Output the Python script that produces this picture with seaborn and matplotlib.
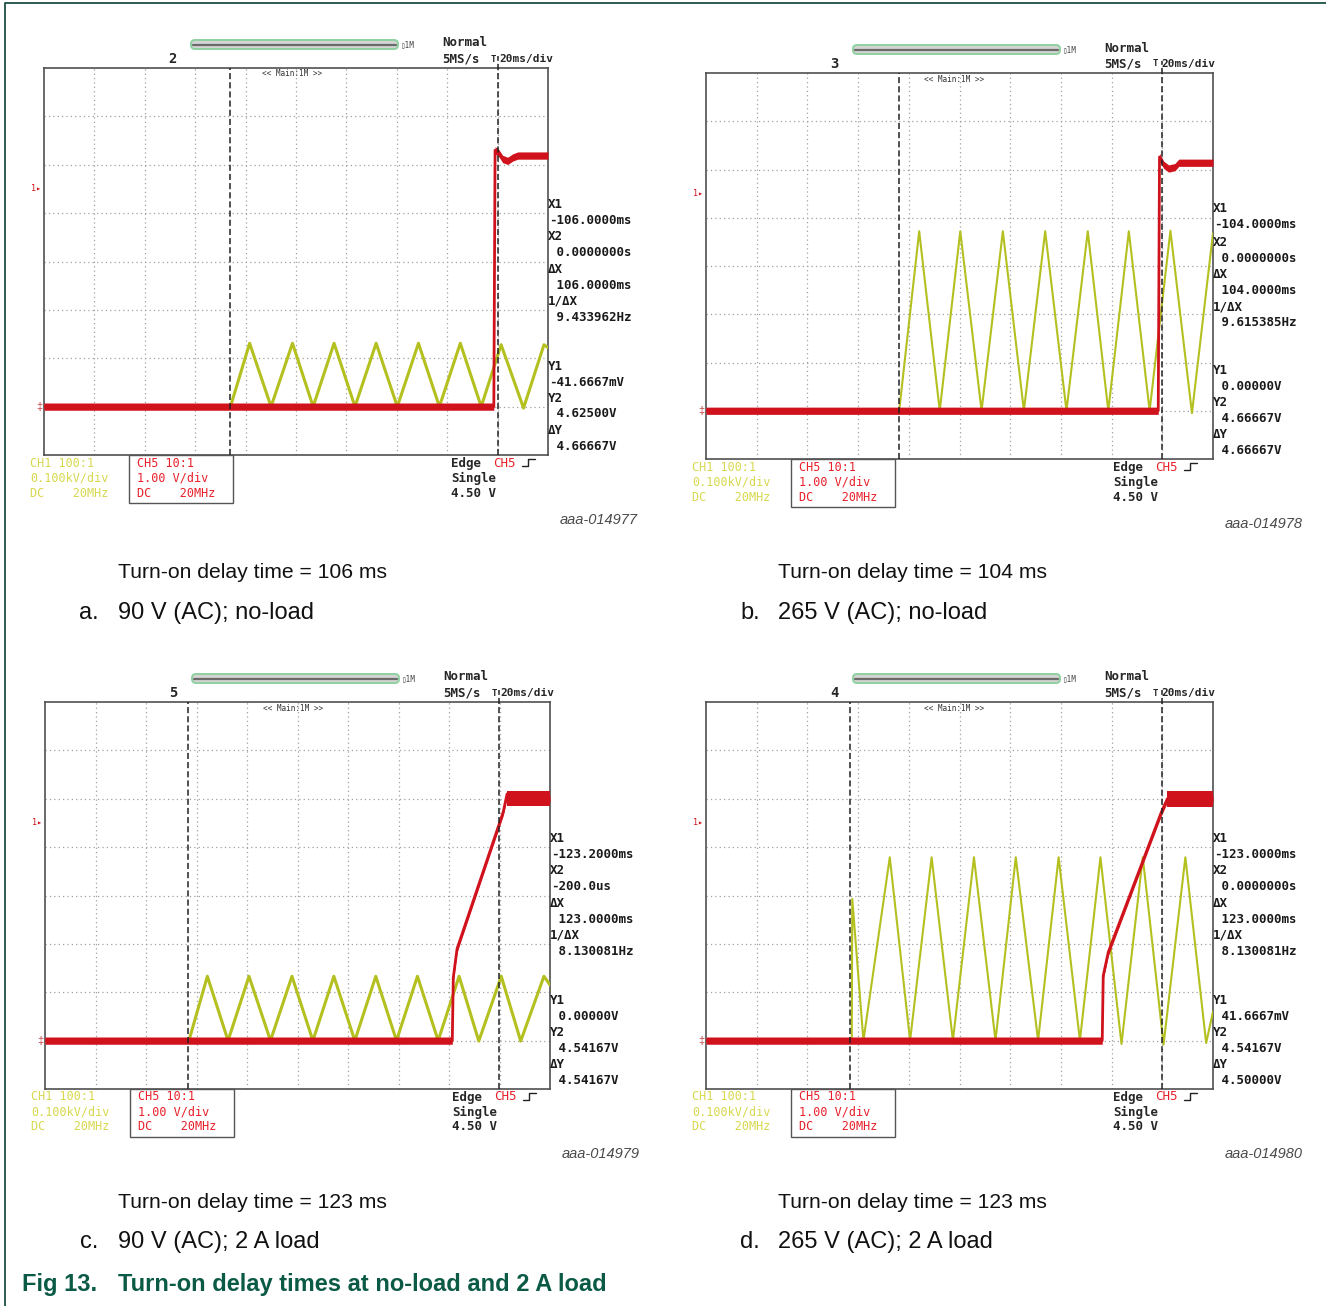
import numpy as np
import matplotlib
matplotlib.use("Agg")
import matplotlib.pyplot as plt
from matplotlib.patches import Rectangle, FancyBboxPatch
from matplotlib.lines import Line2D
import seaborn as sns

# every screen: 20 ms/div, X2 cursor one division from the right edge
t_lim = (-180, 20)
v_lim = (-1, 7)        # CH5 1 V/div, ground one division up
ch1_per_div = 100.0    # CH1 0.1 kV/div

# a. 90 V (AC); no-load
a_ch1_t = [-180, -106, -98.4, -89.9, -81.4, -73.2, -64.9, -56.6, -48.2, -39.8, -31.4, -23.1,
           -14.8, -6.5, 1.4, 10.3, 18.4, 20]
a_ch1_v = [0, 0, 131, 0, 131, 0, 131, 0, 131, 0, 131, 0, 131, 0, 128, -3, 128, 122]
a_ch5_t = [-180, -1.5, -1.0, 0.5, 2.0, 4.0, 6.0, 8.0, 20]
a_ch5_v = [0, 0, 5.30, 5.24, 5.12, 5.08, 5.15, 5.19, 5.19]
a_cursors = [-106, 0]
a_readout = ["-106.0000ms", " 0.0000000s", " 106.0000ms", " 9.433962Hz",
             "-41.6667mV", " 4.62500V", " 4.66667V"]

# b. 265 V (AC); no-load
b_ch1_t = [-180, -103.8, -95.9, -87.8, -79.7, -71.3, -62.9, -54.6, -46.2, -37.8, -29.4, -21.3,
           -13.2, -5.0, 3.2, 11.7, 20]
b_ch1_v = [0, 0, 372, 0, 372, 0, 372, 0, 372, 0, 372, 0, 372, 0, 373, -5, 368]
b_ch5_t = [-180, -1.6, -1.1, 0.5, 2.5, 5.0, 6.5, 20]
b_ch5_v = [0, 0, 5.26, 5.10, 5.02, 5.05, 5.14, 5.14]
b_cursors = [-104, 0]
b_readout = ["-104.0000ms", " 0.0000000s", " 104.0000ms", " 9.615385Hz",
             " 0.00000V", " 4.66667V", " 4.66667V"]

# c. 90 V (AC); 2 A load
c_ch1_t = [-180, -123, -115.7, -107.5, -99.2, -90.7, -82.2, -73.9, -65.6, -57.3, -49.0, -40.8,
           -32.5, -24.3, -16.0, -8.2, 0.7, 8.4, 17.6, 20]
c_ch1_v = [0, 0, 133, 0, 133, 0, 133, 0, 133, 0, 133, 0, 133, 0, 133, -1, 133, -1, 133, 115]
c_ch5_t = [-180, -18.7, -18.3, -16.8, 1.5, 3.0, 4.0, 20]
c_ch5_v = [0, 0, 1.30, 1.90, 4.73, 5.10, 5.00, 5.00]
c_cursors = [-123.2, -0.2]
c_readout = ["-123.2000ms", "-200.0us", " 123.0000ms", " 8.130081Hz",
             " 0.00000V", " 4.54167V", " 4.54167V"]

# d. 265 V (AC); 2 A load
d_ch1_t = [-180, -122.5, -122.3, -117.9, -107.5, -99.5, -91.0, -82.6, -74.3, -65.8, -57.8, -49.0,
           -40.9, -32.5, -24.4, -16.1, -7.7, 0.5, 9.1, 17.3, 20]
d_ch1_v = [0, 0, 293, 0, 379, 0, 379, 0, 379, 0, 379, 0, 379, 0, 379, -7, 379, -8, 379, -5, 60]
d_ch5_t = [-180, -23.7, -23.3, -21.3, -0.4, 2.0, 20]
d_ch5_v = [0, 0, 1.34, 1.83, 4.72, 5.00, 5.00]
d_cursors = [-123, 0]
d_readout = ["-123.0000ms", " 0.0000000s", " 123.0000ms", " 8.130081Hz",
             " 41.6667mV", " 4.54167V", " 4.50000V"]

# noise width of the CH5 trace (V, half band) and the noisy plateau in the loaded cases
ch5_noise = 0.075
c_band = (3.0, 4.84, 5.16)
d_band = (2.0, 4.83, 5.15)

W, H = 1326, 1306
YEL = "#b4c020"
RED = "#d0121c"
TXT_YEL = "#d8d850"
TXT_RED = "#e8202a"
GREEN = "#0b5a45"
MONO = ["DejaVu Sans Mono"]

sns.set_style("white")
plt.rcParams["font.family"] = ["Liberation Sans", "DejaVu Sans"]

fig = plt.figure(figsize=(W / 100, H / 100), dpi=100)


def ftext(x, y, s, **kw):
    kw.setdefault("va", "center")
    return fig.text(x / W, 1 - y / H, s, **kw)


def fline(xs, ys, **kw):
    fig.add_artist(Line2D([x / W for x in xs], [1 - y / H for y in ys],
                          transform=fig.transFigure, **kw))


def scope(box, ch1_t, ch1_v, ch5_t, ch5_v, cursors, readout, num, fig_id, lw_yel, band=None):
    left, top, right, bottom = box
    ax = fig.add_axes([left / W, 1 - bottom / H, (right - left) / W, (bottom - top) / H])
    ax.set_xlim(*t_lim)
    ax.set_ylim(*v_lim)
    ax.set_xticks(range(-160, 20, 20))
    ax.set_yticks(range(0, 7))
    ax.grid(True, color="#a0a0a0", linestyle=(0, (1, 2.5)), lw=0.9)
    ax.tick_params(length=0, labelbottom=False, labelleft=False)
    for sp in ax.spines.values():
        sp.set_color("#505050")
        sp.set_linewidth(1.2)

    sns.lineplot(x=ch1_t, y=[v / ch1_per_div for v in ch1_v], ax=ax, color=YEL,
                 lw=lw_yel, sort=False, estimator=None, zorder=3)
    # CH5: thin trace plus its vertical noise band (thin on the fast edges)
    t5 = np.array(ch5_t, dtype=float)
    v5 = np.array(ch5_v, dtype=float)
    ax.fill_between(t5, v5 - ch5_noise, v5 + ch5_noise, color=RED, lw=0, zorder=4)
    sns.lineplot(x=ch5_t, y=ch5_v, ax=ax, color=RED, lw=2.0, sort=False,
                 estimator=None, zorder=4)
    if band is not None:
        ax.fill_between([band[0], t_lim[1]], band[1], band[2], color=RED, lw=0, zorder=4)
    ax.axvline(cursors[0], color="#222222", lw=1.1, dashes=(4, 2), zorder=5)
    ax.axvline(cursors[1], ymin=0, ymax=1.03, color="#222222", lw=1.1, dashes=(4, 2),
               zorder=5, clip_on=False)
    ax.set_xlabel("")
    ax.set_ylabel("")

    def ypx(v):
        return bottom - (v - v_lim[0]) / (v_lim[1] - v_lim[0]) * (bottom - top)

    # header above the screen
    ftext(left + 128, top - 9, num, fontsize=10, family=MONO, weight="bold", ha="center")
    bar = FancyBboxPatch(((left + 147) / W, 1 - (top - 19) / H), 207 / W, 9 / H,
                         boxstyle="round,pad=0,rounding_size=0.003", transform=fig.transFigure,
                         facecolor="#d4d4d4", edgecolor="#8fd0a0", lw=1.4)
    fig.add_artist(bar)
    fline([left + 149, left + 352], [top - 23.5, top - 23.5], color="#6a6a6a", lw=1.6)
    ftext(left + 357, top - 23, "▯1M", fontsize=5.5, family=MONO, color="#444444")
    ftext(left + 398, top - 25, "Normal", fontsize=9, family=MONO, weight="bold")
    ftext(left + 398, top - 9, "5MS/s", fontsize=9, family=MONO, weight="bold")
    ftext(left + 449, top - 9, "T", fontsize=6.5, family=MONO, weight="bold", ha="center")
    ftext(left + 455, top - 9, "20ms/div", fontsize=8, family=MONO, weight="bold")
    ftext(left + 248, top + 6, "<< Main:1M >>", fontsize=5.5, family=MONO, ha="center",
          color="#333333")

    # level markers on the left
    ftext(left - 8, ypx(4.5), "1▸", fontsize=6, family=MONO, color=RED, ha="center")
    ftext(left - 5, ypx(0), "‡", fontsize=8, color="#c04040", ha="center")

    # cursor readout on the right
    labels = ["X1", "X2", "ΔX", "1/ΔX", "Y1", "Y2", "ΔY"]
    offs = [136, 169, 201.5, 233.5, 298, 330, 362]
    for lab, val, dy in zip(labels, readout, offs):
        ftext(right + 0, top + dy, lab, fontsize=9, family=MONO, weight="bold", color="#1a1a1a")
        ftext(right + 1, top + dy + 16, val, fontsize=9, family=MONO, weight="bold",
              color="#1a1a1a")

    # channel settings below the screen
    for dy, s in zip([8, 23, 38], ["CH1 100:1", "0.100kV/div", "DC    20MHz"]):
        ftext(left - 14, bottom + dy, s, fontsize=8.5, family=MONO, color=TXT_YEL)
    fig.add_artist(Rectangle(((left + 85) / W, 1 - (bottom + 48) / H), 104 / W, 48 / H,
                             transform=fig.transFigure, fill=False, edgecolor="#555555",
                             lw=1.0))
    for dy, s in zip([8, 23, 38], ["CH5 10:1", "1.00 V/div", "DC    20MHz"]):
        ftext(left + 93, bottom + dy, s, fontsize=8.5, family=MONO, color=TXT_RED)
    ftext(left + 407, bottom + 8, "Edge", fontsize=9, family=MONO, weight="bold")
    ftext(left + 449, bottom + 8, "CH5", fontsize=9, family=MONO, color=TXT_RED)
    fline([left + 478, left + 484, left + 484, left + 491],
          [bottom + 11, bottom + 11, bottom + 4, bottom + 4], color="#222222", lw=1.0)
    ftext(left + 407, bottom + 23, "Single", fontsize=9, family=MONO, weight="bold")
    ftext(left + 407, bottom + 38, "4.50 V", fontsize=9, family=MONO, weight="bold")
    ftext(right + 90, bottom + 65, fig_id, fontsize=10.5, style="italic", color="#4a4a4a",
          ha="right")
    return ax


scope((44, 68, 548, 455), a_ch1_t, a_ch1_v, a_ch5_t, a_ch5_v, a_cursors, a_readout,
      "2", "aaa-014977", 2.2)
scope((706, 73, 1213, 459), b_ch1_t, b_ch1_v, b_ch5_t, b_ch5_v, b_cursors, b_readout,
      "3", "aaa-014978", 1.5)
scope((45, 702, 550, 1089), c_ch1_t, c_ch1_v, c_ch5_t, c_ch5_v, c_cursors, c_readout,
      "5", "aaa-014979", 2.2, band=c_band)
scope((706, 702, 1213, 1089), d_ch1_t, d_ch1_v, d_ch5_t, d_ch5_v, d_cursors, d_readout,
      "4", "aaa-014980", 1.5, band=d_band)

# sub captions
captions = [(118, 572, 79, 613, "Turn-on delay time = 106 ms", "a.", "90 V (AC); no-load"),
            (778, 572, 740, 613, "Turn-on delay time = 104 ms", "b.", "265 V (AC); no-load"),
            (118, 1202, 80, 1242, "Turn-on delay time = 123 ms", "c.", "90 V (AC); 2 A load"),
            (778, 1202, 740, 1242, "Turn-on delay time = 123 ms", "d.", "265 V (AC); 2 A load")]
for x, y, xl, yl, line1, tag, line2 in captions:
    ftext(x, y, line1, fontsize=15.2, color="#111111")
    ftext(xl, yl, tag, fontsize=17, color="#111111")
    ftext(x, yl, line2, fontsize=17, color="#111111")

ftext(22, 1285, "Fig 13.", fontsize=17, weight="bold", color=GREEN)
ftext(118, 1285, "Turn-on delay times at no-load and 2 A load", fontsize=17,
      weight="bold", color=GREEN)

# frame of the figure block
fline([5, 5, W], [H, 3, 3], color="#1d4f44", lw=1.3)

fig.savefig("out.png", dpi=100)
